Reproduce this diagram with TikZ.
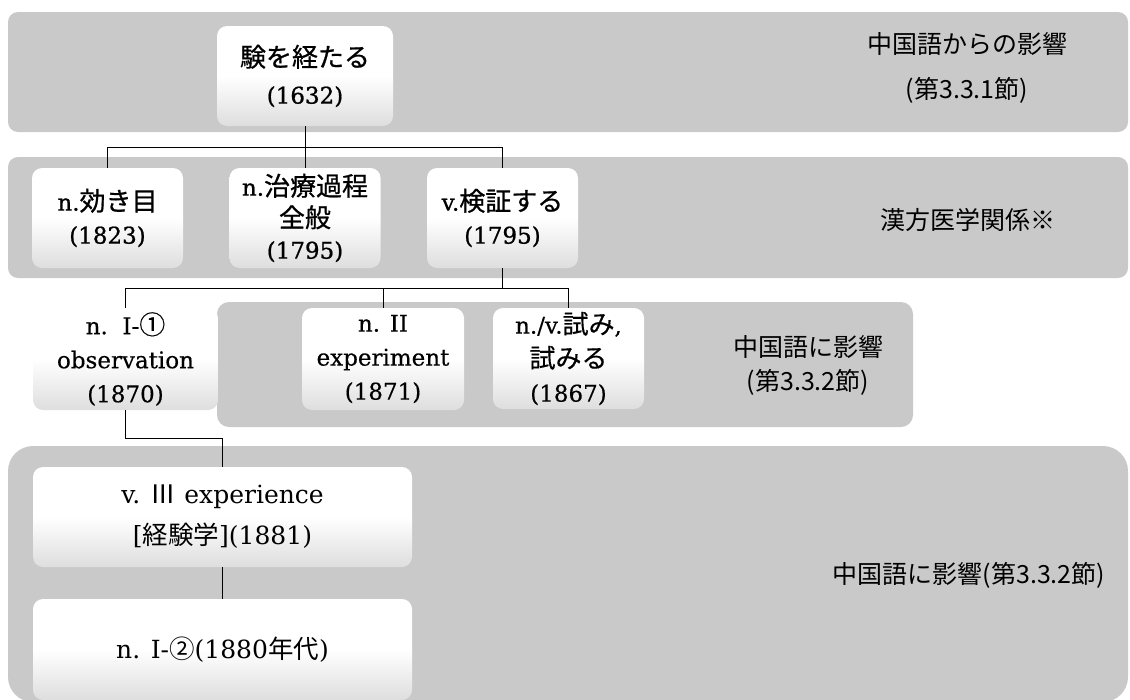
\documentclass[tikz,border=0pt]{standalone}
\usepackage{fontspec}
\setmainfont{DejaVu Serif}
\newfontfamily\serifb[FakeBold=0.8]{DejaVu Serif}
\newfontfamily\serifm[FakeBold=0.4]{DejaVu Serif}
\newfontfamily\cjkb[Scale=1.13,FakeBold=0.8]{Noto Sans CJK JP}
\newfontfamily\cjkm[Scale=1.13,FakeBold=0.4]{Noto Sans CJK JP}
\newfontfamily\cjkr[Scale=1.02]{Noto Sans CJK JP}
\newfontfamily\cjkl{Noto Sans CJK JP}
\definecolor{bandgray}{RGB}{201,201,201}
\newcommand{\jfont}{\cjkb}
\newcommand{\J}[1]{{\jfont #1}}
\begin{document}
\begin{tikzpicture}[x=1pt,y=-1pt,
  band/.style={fill=bandgray, draw=none, inner sep=0pt},
  wbox/.style={rounded corners=10pt, inner sep=0pt, align=center, draw=none,
    top color=white, bottom color=black!13, middle color=white},
  rowA/.style={font={\fontsize{23}{33}\selectfont\serifb\def\jfont{\cjkb}}},
  rowB/.style={font={\fontsize{23}{34}\selectfont\serifm\def\jfont{\cjkm}}},
  rowC/.style={font={\fontsize{25}{41}\selectfont\rmfamily\def\jfont{\cjkr}}},
  conn/.style={draw=black, line width=1pt},
  lbl/.style={align=center, inner sep=0pt, font=\fontsize{25}{45}\selectfont\cjkl}]
\useasboundingbox (0,0) rectangle (1130,699);
\clip (0,0) rectangle (1130,699);
% bands
\node[band, rounded corners=10pt, minimum width=1120pt, minimum height=120pt] (band1) at (568,72) {};
\node[band, rounded corners=10pt, minimum width=1120pt, minimum height=121pt] (band2) at (568,217.5) {};
\node[band, rounded corners=12pt, minimum width=696pt, minimum height=125pt] (band3) at (565,364.5) {};
\node[band, rounded corners=25pt, minimum width=1120pt, minimum height=256pt] (band4) at (568,574) {};
% band labels
\node[lbl] (l1) at (967,67.5) {中国語からの影響\\(第3.3.1節)};
\node[lbl] (l2) at (968,220) {漢方医学関係※};
\node[lbl, font=\fontsize{25}{34}\selectfont\cjkl] (l3) at (808,365) {中国語に影響\\(第3.3.2節)};
\node[lbl] (l4) at (969,575) {中国語に影響(第3.3.2節)};
% boxes
\node[wbox, rowA, minimum width=176pt, minimum height=100pt, font={\fontsize{23}{37}\selectfont\serifb}] (top) at (305,76) {\J{験を経たる}\\(1632)};
\node[wbox, rowA, minimum width=151pt, minimum height=100pt] (b1) at (107.5,218) {n.\J{効き目}\\(1823)};
\node[wbox, rowA, minimum width=151pt, minimum height=100pt, font={\fontsize{23}{31.5}\selectfont\serifb}] (b2) at (305,218) {n.\J{治療過程}\\\J{全般}\\(1795)};
\node[wbox, rowA, minimum width=151pt, minimum height=100pt] (b3) at (502.5,218) {v.\J{検証する}\\(1795)};
\node[wbox, rowB, minimum width=185pt, minimum height=102pt] (c1) at (125.5,359) {n.\ \ I-\J{①}\\observation\\(1870)};
\node[wbox, rowB, minimum width=162pt, minimum height=102pt] (c2) at (383,359) {n. II\\experiment\\(1871)};
\node[wbox, rowB, minimum width=151pt, minimum height=101pt] (c3) at (568.5,358.5) {n./v.\J{試み},\\\J{試みる}\\(1867)};
\node[wbox, rowC, minimum width=379pt, minimum height=100pt] (d1) at (222.5,517) {v. \J{Ⅲ} experience\\{[}\J{経験学}{]}(1881)};
\node[wbox, rowC, minimum width=379pt, minimum height=101pt] (d2) at (222.5,649.5) {n. I-\J{②}(1880\J{年代})};
% connectors
\coordinate (bar1) at (0,147);
\coordinate (bar2) at (0,288);
\coordinate (bar3) at (0,438);
\draw[conn] (top.south) -- (b2.north);
\draw[conn] (b1.north) |- (b3.north |- bar1) -- (b3.north);
\draw[conn] (b3.south) -- (b3.south |- bar2);
\draw[conn] (c1.north) |- (c3.north |- bar2) -- (c3.north);
\draw[conn] (c2.north) -- (c2.north |- bar2);
\draw[conn] (c1.south) |- (d1.north |- bar3) -- (d1.north);
\draw[conn] (d1.south) -- (d2.north);
\end{tikzpicture}
\end{document}
